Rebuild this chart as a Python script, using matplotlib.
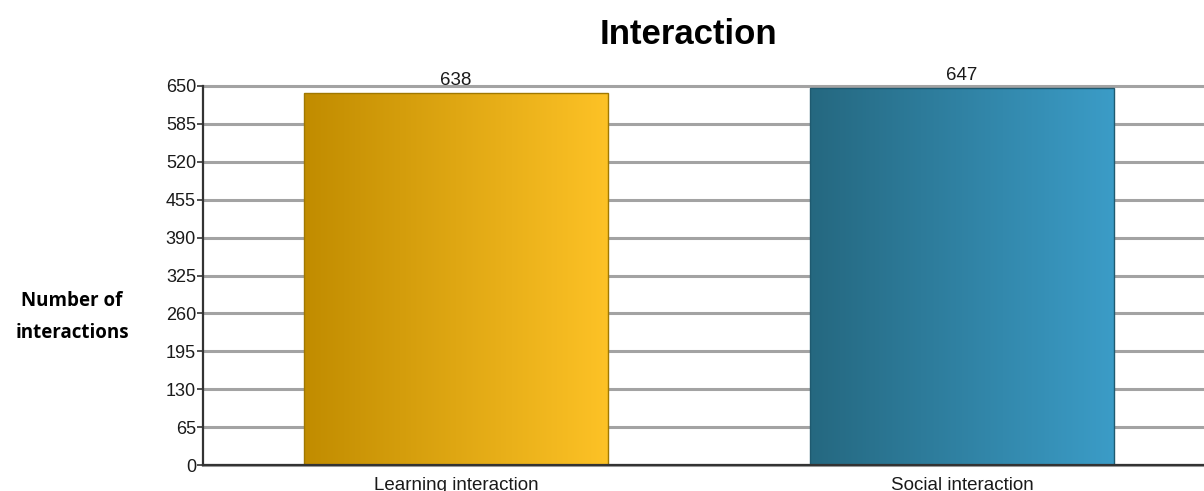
import matplotlib
matplotlib.use("Agg")
import matplotlib.pyplot as plt
import numpy as np
from matplotlib.colors import LinearSegmentedColormap

categories = ["Learning interaction", "Social interaction"]
values = [638, 647]
yticks = [0, 65, 130, 195, 260, 325, 390, 455, 520, 585, 650]
bar_colors = [("#C18C00", "#FDC226"), ("#256880", "#3B9CC7")]
edge_colors = ["#A07800", "#1F5A70"]

fig = plt.figure(figsize=(12.04, 4.91), dpi=100)
ax = fig.add_axes([203 / 1204, 26 / 491, 1012 / 1204, 379 / 491])

x = np.arange(len(categories))
bars = ax.bar(x, values, width=0.6, color="none", edgecolor="none", zorder=3)

grad = np.linspace(0, 1, 256).reshape(1, -1)
for b, (c0, c1), ec, v in zip(bars, bar_colors, edge_colors, values):
    cmap = LinearSegmentedColormap.from_list("g", [c0, c1])
    x0, w, h = b.get_x(), b.get_width(), b.get_height()
    im = ax.imshow(grad, cmap=cmap, aspect="auto",
                   extent=[x0, x0 + w, 0, h], zorder=3, interpolation="bilinear")
    im.set_clip_path(b)
    ax.add_patch(plt.Rectangle((x0, 0), w, h, fill=False, edgecolor=ec,
                               linewidth=1.0, zorder=4))
    ax.text(b.get_x() + w / 2, h + 6, str(v), ha="center", va="bottom",
            fontsize=13.5, family="Liberation Sans", color="#1a1a1a")

ax.set_xlim(-0.5, 1.5)
ax.set_ylim(0, 650)
ax.set_yticks(yticks)
ax.set_yticklabels([str(t) for t in yticks], family="Liberation Sans",
                   fontsize=13, color="#1a1a1a")
ax.set_xticks(x)
ax.set_xticklabels(categories, family="Liberation Sans", fontsize=13.5,
                   color="#1a1a1a")
ax.tick_params(axis="x", length=0, pad=9)
ax.tick_params(axis="y", length=4, width=1.2, color="#333333", pad=1)

ax.yaxis.grid(True, color="#A3A3A3", linewidth=2.2, zorder=1)
for gl in ax.get_ygridlines():
    gl.set_clip_on(False)
ax.set_axisbelow(True)
for s in ["top", "right"]:
    ax.spines[s].set_visible(False)
for s in ["left", "bottom"]:
    ax.spines[s].set_color("#333333")
    ax.spines[s].set_linewidth(1.6)
    ax.spines[s].set_zorder(5)

fig.text(688 / 1204, 1 - 35 / 491, "Interaction", ha="center", va="center",
         fontsize=25, fontweight="bold", family="Liberation Sans")
fig.text(72 / 1204, 1 - 317 / 491, "Number of\ninteractions", ha="center",
         va="center", fontsize=13.5, fontweight="bold", family="Open Sans",
         linespacing=1.85)

fig.savefig("out.png", dpi=100)
